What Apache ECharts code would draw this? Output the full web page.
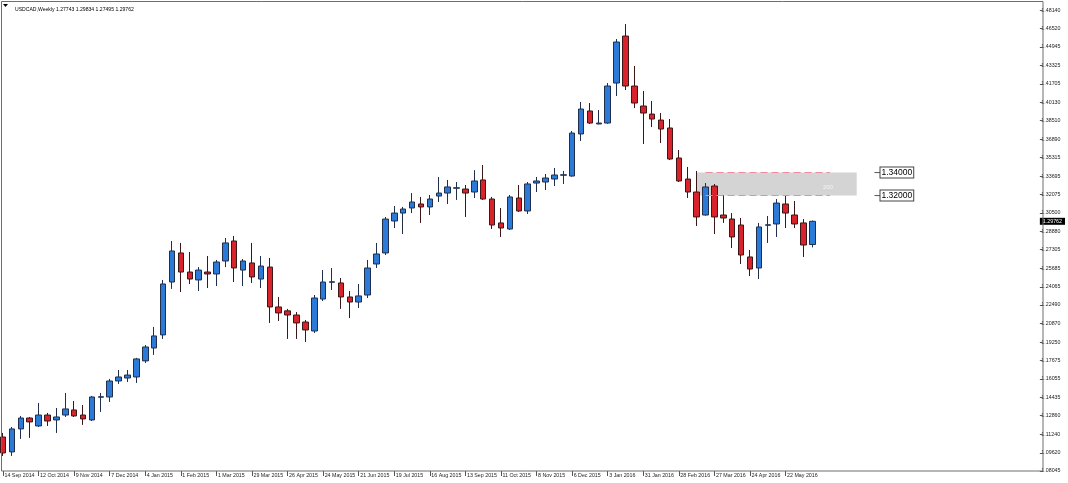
<!DOCTYPE html>
<html><head><meta charset="utf-8">
<script src="https://cdn.jsdelivr.net/npm/echarts@6/dist/echarts.min.js"></script>
<style>html,body{margin:0;padding:0;background:#fff}#c{width:1068px;height:483px}</style>
</head><body><div id="c"></div>
<script>
const symbolName = 'USDCAD,Weekly';
const tickLabels = ['14 Sep 2014','12 Oct 2014','9 Nov 2014','7 Dec 2014','4 Jan 2015','1 Feb 2015','1 Mar 2015','29 Mar 2015','26 Apr 2015','24 May 2015','21 Jun 2015','19 Jul 2015','16 Aug 2015','13 Sep 2015','11 Oct 2015','8 Nov 2015','6 Dec 2015','3 Jan 2016','31 Jan 2016','28 Feb 2016','27 Mar 2016','24 Apr 2016','22 May 2016'];
const totalSlots = 117;
const yTicks = [1.48140,1.46520,1.44945,1.43325,1.41705,1.40130,1.38510,1.36890,1.35315,1.33695,1.32075,1.30500,1.28880,1.27305,1.25685,1.24065,1.22490,1.20870,1.19250,1.17675,1.16055,1.14435,1.12860,1.11240,1.09620,1.08045];

const opens  = [1.1100,1.0970,1.1170,1.1265,1.1196,1.1291,1.1248,1.1291,1.1335,1.1291,1.1248,1.1446,1.1448,1.1587,1.1613,1.1622,1.1762,1.1874,1.1988,1.2448,1.2701,1.2535,1.2466,1.2535,1.2518,1.2631,1.2805,1.2552,1.2614,1.2474,1.2578,1.2231,1.2197,1.2161,1.2100,1.2022,1.2300,1.2446,1.2440,1.2318,1.2274,1.2335,1.2605,1.2701,1.2979,1.3048,1.3092,1.3127,1.3101,1.3196,1.3222,1.3264,1.3257,1.3231,1.3336,1.3170,1.2962,1.2909,1.3179,1.3066,1.3309,1.3318,1.3344,1.3377,1.3370,1.3736,1.3936,1.3823,1.3831,1.4179,1.4588,1.4153,1.3979,1.3909,1.3857,1.3788,1.3527,1.3344,1.3231,1.3031,1.3283,1.3031,1.2996,1.2944,1.2666,1.2570,1.2942,1.2953,1.3127,1.3031,1.2962,1.27743];
const highs  = [1.1135,1.1187,1.1283,1.1274,1.1396,1.1309,1.1352,1.1483,1.1413,1.1378,1.1457,1.1483,1.1605,1.1683,1.1683,1.1788,1.1900,1.2057,1.2466,1.2805,1.2788,1.2709,1.2578,1.2674,1.2640,1.2831,1.2849,1.2648,1.2788,1.2674,1.2657,1.2318,1.2214,1.2187,1.2118,1.2335,1.2552,1.2570,1.2483,1.2370,1.2431,1.2640,1.2788,1.3014,1.3109,1.3101,1.3222,1.3188,1.3205,1.3362,1.3336,1.3318,1.3292,1.3421,1.3466,1.3188,1.3092,1.3205,1.3292,1.3318,1.3362,1.3388,1.3440,1.3414,1.3762,1.4014,1.4005,1.3944,1.4179,1.4562,1.4692,1.4327,1.4110,1.4023,1.3918,1.3866,1.3596,1.3449,1.3414,1.3309,1.3301,1.3205,1.3048,1.3005,1.2727,1.2962,1.3022,1.3170,1.3196,1.3153,1.2996,1.29834];
const lows   = [1.0935,1.0935,1.1083,1.1092,1.1187,1.1196,1.1135,1.1274,1.1274,1.1205,1.1239,1.1318,1.1405,1.1561,1.1578,1.1570,1.1744,1.1814,1.1953,1.2388,1.2361,1.2431,1.2370,1.2396,1.2413,1.2578,1.2448,1.2413,1.2440,1.2396,1.2092,1.2109,1.1953,1.1953,1.1926,1.2005,1.2283,1.2379,1.2214,1.2135,1.2222,1.2309,1.2570,1.2683,1.2918,1.2866,1.3048,1.2962,1.3031,1.3144,1.3127,1.3162,1.3014,1.3179,1.3162,1.2909,1.2840,1.2901,1.3057,1.3040,1.3231,1.3248,1.3283,1.3301,1.3365,1.3675,1.3823,1.3820,1.3825,1.4066,1.4118,1.3961,1.3649,1.3796,1.3657,1.3509,1.3318,1.3179,1.2935,1.3025,1.2866,1.2962,1.2744,1.2605,1.2500,1.2474,1.2788,1.2840,1.2918,1.2918,1.2666,1.27495];
const closes = [1.0961,1.1170,1.1265,1.1231,1.1291,1.1239,1.1274,1.1344,1.1283,1.1257,1.1448,1.1450,1.1587,1.1622,1.1639,1.1779,1.1883,1.1979,1.2431,1.2718,1.2535,1.2474,1.2552,1.2518,1.2622,1.2788,1.2570,1.2631,1.2492,1.2587,1.2231,1.2179,1.2161,1.2092,1.2031,1.2309,1.2448,1.2450,1.2318,1.2274,1.2327,1.2570,1.2692,1.2996,1.3048,1.3083,1.3144,1.3101,1.3170,1.3222,1.3275,1.3268,1.3222,1.3327,1.3170,1.2944,1.2918,1.3188,1.3066,1.3301,1.3327,1.3353,1.3379,1.3381,1.3744,1.3953,1.3831,1.3831,1.4153,1.4536,1.4153,1.4005,1.3918,1.3866,1.3779,1.3518,1.3327,1.3231,1.3014,1.3275,1.3014,1.3005,1.2840,1.2683,1.2561,1.2927,1.2946,1.3135,1.3048,1.2953,1.2770,1.29762];

const zoneLevels = [1.34000, 1.32000];
const zoneStartIdx = 78, zoneEndIdx = 96;
const dashStartIdx = 79, dashEndIdx = 93;
const levelLabelIdx = 98;
const zoneText = '200';

const categories = [];
for (let i = 0; i < totalSlots; i++) {
  categories.push(i % 4 === 0 && i / 4 < tickLabels.length ? tickLabels[i / 4] : 'w' + i);
}
const candleData = opens.map((o, i) => [o, closes[i], lows[i], highs[i]]);
const last = opens.length - 1;
const titleText = symbolName + ' ' + [opens[last], highs[last], lows[last], closes[last]].map(v => v.toFixed(5)).join(' ');
const isLabel = (i, v) => !String(v).startsWith('w');
const FONT = 'Liberation Sans';
const YMIN = 1.0804, YMAX = 1.4884;

const chart = echarts.init(document.getElementById('c'), null, {renderer: 'canvas'});
chart.setOption({
  animation: false,
  backgroundColor: '#ffffff',
  textStyle: {fontFamily: FONT},
  title: {
    text: titleText, left: 10, top: 2,
    textStyle: {fontSize: 5.1, fontWeight: 'normal', color: '#000', fontFamily: FONT}
  },
  grid: {left: 3, right: 30.28, top: 2, bottom: 12, containLabel: false},
  xAxis: {
    type: 'category', data: categories, boundaryGap: false,
    axisLine: {show: false},
    axisTick: {show: true, interval: isLabel, length: 5, lineStyle: {color: '#555'}},
    axisLabel: {interval: isLabel, align: 'left', margin: 2, fontSize: 5.3, color: '#222',
      padding: [0, 0, 0, 1.5],
      formatter: v => (String(v).startsWith('w') ? '' : v)},
    splitLine: {show: false}
  },
  yAxis: [{
    type: 'value', position: 'right', min: YMIN, max: YMAX, offset: 5.28,
    axisLine: {show: false},
    splitLine: {show: false},
    axisTick: {show: true, customValues: yTicks, length: 3, lineStyle: {color: '#555'}},
    axisLabel: {customValues: yTicks, formatter: v => v.toFixed(5), fontSize: 5.3, color: '#222', margin: 1.5}
  }, {
    type: 'value', position: 'right', min: YMIN, max: YMAX, offset: 5.28,
    axisLine: {show: false}, splitLine: {show: false}, axisTick: {show: false},
    axisLabel: {customValues: [closes[last]], formatter: v => v.toFixed(5), fontSize: 5.3,
      color: '#fff', backgroundColor: '#000', padding: [1, 3, 1, 3], margin: 0}
  }],
  graphic: [
    {type: 'rect', z: 100, silent: true, shape: {x: 1.5, y: 1.5, width: 1041.5, height: 469.5},
      style: {fill: 'none', stroke: '#6e6e6e', lineWidth: 1}},
    {type: 'polygon', z: 100, silent: true, shape: {points: [[3, 4], [8, 4], [5.5, 7]]}, style: {fill: '#000'}}
  ],
  series: [{
    type: 'candlestick',
    data: candleData,
    barWidth: 6,
    clip: false,
    itemStyle: {
      color: '#2b7ad8', color0: '#d8232c',
      borderColor: '#1f2f4c', borderColor0: '#3c1718', borderColorDoji: '#333',
      borderWidth: 1
    },
    markArea: {
      silent: true,
      itemStyle: {color: '#d4d4d4'},
      label: {show: true, formatter: zoneText, position: ['82%', '66%'], align: 'center', verticalAlign: 'middle',
        color: '#f4f4f4', fontSize: 6},
      data: [[{xAxis: zoneStartIdx, yAxis: zoneLevels[0]}, {xAxis: zoneEndIdx, yAxis: zoneLevels[1]}]]
    },
    markLine: {
      silent: true, symbol: ['none', 'none'],
      lineStyle: {color: '#f08a9c', type: [7, 4], width: 1},
      label: {show: false},
      data: zoneLevels.map(v => [{coord: [dashStartIdx, v]}, {coord: [dashEndIdx, v]}])
    },
    markPoint: {
      silent: true,
      symbol: 'rect', symbolSize: [6, 1], symbolOffset: [3, 0],
      itemStyle: {color: '#555'},
      label: {show: true, position: 'right', distance: 0, formatter: '{b}',
        color: '#000', fontSize: 8.5, backgroundColor: '#fff', borderColor: '#444', borderWidth: 1,
        padding: [1, 1, 0, 1]},
      data: zoneLevels.map(v => ({name: v.toFixed(5), coord: [levelLabelIdx, v]}))
    }
  }]
});
</script></body></html>
